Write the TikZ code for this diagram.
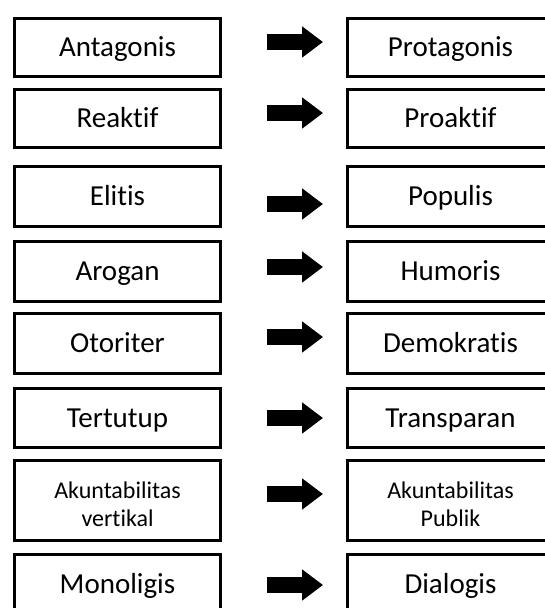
\documentclass[tikz,border=0pt]{standalone}
\usepackage{fontspec}
\setmainfont{Carlito}[Ligatures={NoCommon}]
\usetikzlibrary{arrows.meta}
\begin{document}
\begin{tikzpicture}[x=1pt,y=-1pt,
  boxbase/.style={draw=black,line width=3pt,minimum width=206pt,inner sep=0pt,align=center},
  box/.style={boxbase,font=\fontsize{29}{34}\selectfont,text height=18.7pt,text depth=0pt},
  twoline/.style={boxbase,font=\fontsize{24}{28}\selectfont},
  blockarrow/.style={line width=16pt,-{Triangle[length=21pt,width=30pt]}}]
\useasboundingbox (0,0) rectangle (545,608);
\fill[white] (0,0) rectangle (545,608);
\clip (0,0) rectangle (545,608);
% left column
\node[box,minimum height=58pt] (L1) at (117.5,47.5) {Antagonis};
\node[box,minimum height=58pt] (L2) at (117.5,118.5) {Reaktif};
\node[box,minimum height=60pt] (L3) at (117.5,196.5) {Elitis};
\node[box,minimum height=60pt] (L4) at (117.5,271.5) {Arogan};
\node[box,minimum height=60pt] (L5) at (117.5,343.5) {Otoriter};
\node[box,minimum height=59pt] (L6) at (117.5,418) {Tertutup};
\node[twoline,minimum height=80pt] (L7) at (117.5,500.5) {\rule{0pt}{23.6pt}Akuntabilitas\\vertikal};
\node[box,minimum height=60pt] (L8) at (117.5,584) {Monoligis};
% right column
\node[box,minimum height=58pt] (R1) at (450.5,47.5) {Protagonis};
\node[box,minimum height=58pt] (R2) at (450.5,118.5) {Proaktif};
\node[box,minimum height=60pt] (R3) at (450.5,196.5) {Populis};
\node[box,minimum height=60pt] (R4) at (450.5,271.5) {Humoris};
\node[box,minimum height=60pt] (R5) at (450.5,343.5) {Demokratis};
\node[box,minimum height=59pt] (R6) at (450.5,418) {Transparan};
\node[twoline,minimum height=80pt] (R7) at (450.5,500.5) {\rule{0pt}{23.6pt}Akuntabilitas\\Publik};
\node[box,minimum height=60pt] (R8) at (450.5,584) {Dialogis};
% arrows
\foreach \i/\y in {1/42,2/113,3/204,4/267,5/337,6/418,7/494,8/585}{
  \coordinate (A\i s) at (267,\y);
  \coordinate (A\i e) at (323,\y);
  \draw[blockarrow] (A\i s) -- (A\i e);
}
\end{tikzpicture}
\end{document}
